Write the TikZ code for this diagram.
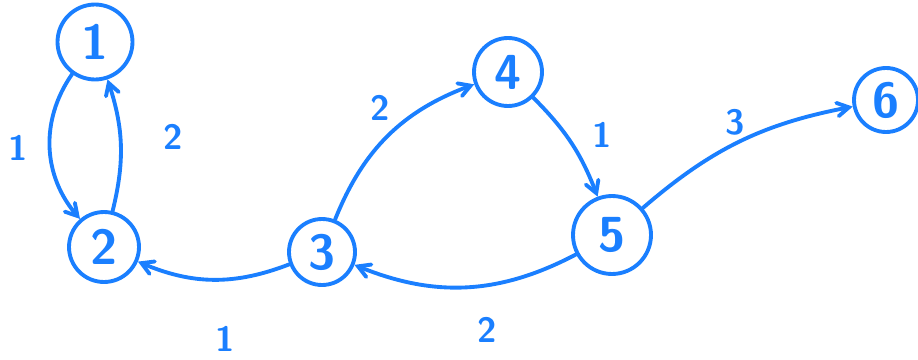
\documentclass[tikz,border=0pt]{standalone}
\usepackage{tikz}
\usetikzlibrary{arrows}
\definecolor{pen}{RGB}{26,127,255}

\begin{document}
\begin{tikzpicture}[x=.02cm, y=.02cm, line width=2.2pt, draw=pen, text=pen,
  vertex/.style={circle, draw=pen, minimum size=1.4cm, inner sep=0pt, font=\sffamily\bfseries\fontsize{28}{30}\selectfont},
  weight/.style={font=\sffamily\bfseries\fontsize{20}{24}\selectfont},
  edge/.style={->, >=angle 60, draw=pen, line cap=round}]
\useasboundingbox (0,0) rectangle (918,359);
\node [vertex, minimum size=1.5cm] (v1) at (95, 317) {1};
\node [vertex] (v2) at (104, 112) {2};
\node [vertex, minimum size=1.32cm] (v3) at (322, 107) {3};
\node [vertex, minimum size=1.36cm] (v4) at (508, 287) {4};
\node [vertex, minimum size=1.56cm] (v5) at (612, 124) {5};
\node [vertex, minimum size=1.28cm] (v6) at (886, 259) {6};
\draw [edge] (v1) to [bend right=38] (v2);
\draw [edge] (v2) to [bend right=16] (v1);
\draw [edge] (v3) to [bend left=22] (v2);
\draw [edge] (v3) to [bend left=24] (v4);
\draw [edge] (v4) to [bend left=12] (v5);
\draw [edge] (v5) to [bend left=25] (v3);
\draw [edge] (v5) to [bend left=15] (v6);
\node [weight] (w12) at (18, 211) {1};
\node [weight] (w21) at (173, 222) {2};
\node [weight] (w32) at (225, 20) {1};
\node [weight] (w34) at (380, 251) {2};
\node [weight] (w45) at (602, 224) {1};
\node [weight] (w53) at (487, 29) {2};
\node [weight] (w56) at (735, 237) {3};
\end{tikzpicture}
\end{document}
